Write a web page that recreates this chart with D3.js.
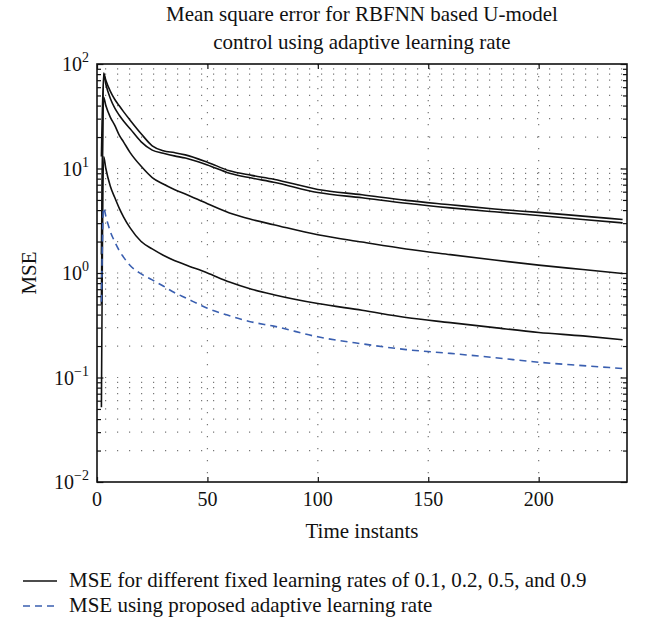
<!DOCTYPE html>
<html>
<head>
<meta charset="utf-8">
<script src="https://cdn.jsdelivr.net/npm/d3@7"></script>
<style>
  body { margin: 0; background: #fff; }
  text { font-family: "Liberation Serif", "DejaVu Serif", serif; fill: #111; }
</style>
</head>
<body>
<div id="chart"></div>
<script>
var WD = 647, HT = 618
var margin = { left: 97, right: 20, top: 64, bottom: 136 }
var width = WD - margin.left - margin.right
var height = HT - margin.top - margin.bottom

// time instants where values were read
var time = [2, 3, 4, 6, 8, 10, 12, 15, 20, 25, 30, 35, 40, 50, 60, 70, 80, 100, 120, 140, 160, 180, 200, 220, 238]

// fixed learning rates (black solid)
var mse_fixed_a = [13, 82, 70, 55, 46, 40, 35, 29, 21.5, 16.5, 14.8, 14.2, 13.5, 11.5, 9.5, 8.6, 7.9, 6.3, 5.6, 4.95, 4.5, 4.1, 3.8, 3.5, 3.25]
var mse_fixed_b = [0.5, 80, 64, 47, 38, 32.5, 28.5, 24, 18, 15, 14, 13.2, 12.6, 10.8, 9.0, 8.1, 7.4, 5.9, 5.25, 4.65, 4.2, 3.85, 3.55, 3.25, 3.02]
var mse_fixed_c = [1.5, 48, 40, 31, 26, 21, 18, 14.2, 10.5, 8.2, 7.1, 6.3, 5.7, 4.6, 3.75, 3.25, 2.9, 2.32, 1.98, 1.7, 1.5, 1.33, 1.19, 1.08, 0.99]
var mse_fixed_d = [0.052, 13, 10, 6.8, 5.3, 4.2, 3.45, 2.7, 2.0, 1.7, 1.48, 1.32, 1.2, 1.0, 0.82, 0.7, 0.62, 0.51, 0.44, 0.375, 0.335, 0.3, 0.27, 0.25, 0.23]

// proposed adaptive rate (blue dashed)
var mse_adaptive = [0.53, 4.2, 3.5, 2.5, 2.0, 1.65, 1.42, 1.18, 0.98, 0.86, 0.75, 0.65, 0.58, 0.46, 0.39, 0.34, 0.31, 0.245, 0.21, 0.185, 0.17, 0.155, 0.14, 0.13, 0.122]

var x_ticks = [0, 50, 100, 150, 200]
var y_ticks = [0.01, 0.1, 1, 10, 100]
var y_exponents = ["\u22122", "\u22121", "0", "1", "2"]

var title_lines = ["Mean square error for RBFNN based U-model", "control using adaptive learning rate"]
var legend_labels = ["MSE for different fixed learning rates of 0.1, 0.2, 0.5, and 0.9", "MSE using proposed adaptive learning rate"]

var svg = d3.select("#chart")
  .append("svg")
    .attr("width", WD)
    .attr("height", HT)

var g = svg.append("g")
    .attr("transform", "translate(" + margin.left + "," + margin.top + ")")

var x = d3.scaleLinear().domain([0, 240]).range([0, width])
var y = d3.scaleLog().domain([0.01, 100]).range([height, 0])

// minor log values for grid and ticks
var minor = []
for (var e = -2; e < 2; e++) {
  for (var m = 1; m < 10; m++) minor.push(m * Math.pow(10, e))
}
minor.push(100)

// grid
g.append("g").attr("class", "grid")
  .selectAll("line.h")
  .data(minor.filter(function(d){ return d > 0.01 && d < 100; }))
  .enter().append("line")
    .attr("x1", 0).attr("x2", width)
    .attr("y1", function(d){ return y(d); })
    .attr("y2", function(d){ return y(d); })
    .attr("stroke", "#777")
    .attr("stroke-width", 1.2)
    .attr("stroke-dasharray", "1.2,10.8")
    .attr("stroke-dashoffset", -8)

g.append("g").attr("class", "grid")
  .selectAll("line.v")
  .data(x_ticks.filter(function(d){ return d > 0; }))
  .enter().append("line")
    .attr("x1", function(d){ return x(d); })
    .attr("x2", function(d){ return x(d); })
    .attr("y1", 0).attr("y2", height)
    .attr("stroke", "#777")
    .attr("stroke-width", 1.2)
    .attr("stroke-dasharray", "1.2,10.8")

// series
var line = d3.line()
  .x(function(d, i){ return x(time[i]); })
  .y(function(d){ return y(d); })
  .curve(d3.curveMonotoneX)

var fixed = [mse_fixed_a, mse_fixed_b, mse_fixed_c, mse_fixed_d]
g.selectAll("path.fixed")
  .data(fixed)
  .enter().append("path")
    .attr("class", "fixed")
    .attr("d", line)
    .attr("fill", "none")
    .attr("stroke", "#111")
    .attr("stroke-width", 1.6)

g.append("path")
  .datum(mse_adaptive)
  .attr("d", line)
  .attr("fill", "none")
  .attr("stroke", "#3a5fb0")
  .attr("stroke-width", 1.6)
  .attr("stroke-dasharray", "7,5")

// axes box with inward ticks
var yAxisL = d3.axisLeft(y).tickValues(minor).tickSize(-4).tickFormat("")
var yAxisR = d3.axisRight(y).tickValues(minor).tickSize(-4).tickFormat("")
var xAxisB = d3.axisBottom(x).tickValues(x_ticks).tickSize(-5).tickFormat("")
var xAxisT = d3.axisTop(x).tickValues(x_ticks).tickSize(-5).tickFormat("")

g.append("g").call(yAxisL)
g.append("g").attr("transform", "translate(" + width + ",0)").call(yAxisR)
g.append("g").attr("transform", "translate(0," + height + ")").call(xAxisB)
g.append("g").call(xAxisT)

g.selectAll(".domain").remove()
g.selectAll(".tick line").attr("stroke", "#111").attr("stroke-width", 1.2)
g.selectAll(".tick").filter(function(d){ return y_ticks.indexOf(d) >= 0; })
  .select("line").attr("x2", function(){ return +d3.select(this).attr("x2") * 1.6; })

g.append("rect")
  .attr("width", width).attr("height", height)
  .attr("fill", "none")
  .attr("stroke", "#111")
  .attr("stroke-width", 1.6)

// tick labels
g.selectAll("text.xlab")
  .data(x_ticks)
  .enter().append("text")
    .attr("class", "xlab")
    .attr("x", function(d){ return x(d); })
    .attr("y", height + 24)
    .attr("text-anchor", "middle")
    .style("font-size", "20px")
    .text(function(d){ return d; })

var ylab = g.selectAll("text.ylab")
  .data(y_ticks)
  .enter().append("text")
    .attr("class", "ylab")
    .attr("x", -8)
    .attr("y", function(d){ return y(d) + 7; })
    .attr("text-anchor", "end")
    .style("font-size", "20px")
ylab.append("tspan").text("10")
ylab.append("tspan")
  .attr("dy", -9)
  .style("font-size", "14px")
  .text(function(d, i){ return y_exponents[i]; })

// titles
svg.selectAll("text.title")
  .data(title_lines)
  .enter().append("text")
    .attr("class", "title")
    .attr("x", margin.left + width / 2)
    .attr("y", function(d, i){ return 21 + i * 28; })
    .attr("text-anchor", "middle")
    .style("font-size", "21px")
    .text(function(d){ return d; })

svg.append("text")
  .attr("x", margin.left + width / 2)
  .attr("y", margin.top + height + 56)
  .attr("text-anchor", "middle")
  .style("font-size", "21px")
  .text("Time instants")

svg.append("text")
  .attr("transform", "translate(36," + (margin.top + height / 2) + ") rotate(-90)")
  .attr("text-anchor", "middle")
  .style("font-size", "21px")
  .text("MSE")

// legend
var legend = svg.selectAll("g.legend")
  .data(legend_labels)
  .enter().append("g")
    .attr("class", "legend")
    .attr("transform", function(d, i){ return "translate(23," + (587 + i * 25) + ")"; })

legend.append("line")
  .attr("x1", 0).attr("x2", 34)
  .attr("y1", -6).attr("y2", -6)
  .attr("stroke", function(d, i){ return i == 0 ? "#111" : "#3a5fb0"; })
  .attr("stroke-width", 1.4)
  .attr("stroke-dasharray", function(d, i){ return i == 0 ? null : "7,5"; })

legend.append("text")
  .attr("x", 46)
  .attr("y", 0)
  .style("font-size", "21px")
  .text(function(d){ return d; })
</script>
</body>
</html>
